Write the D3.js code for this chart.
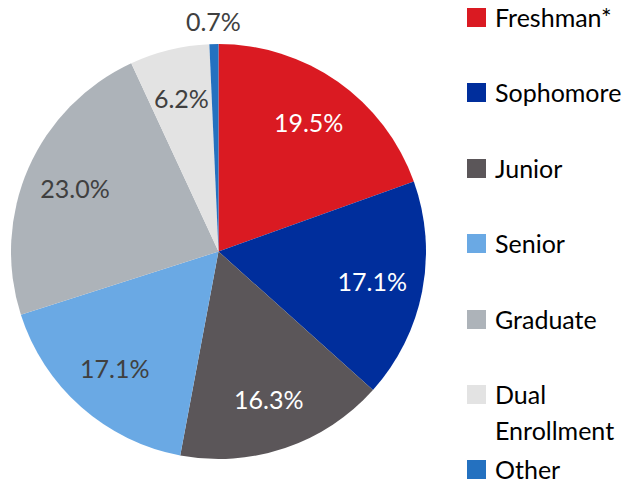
<!DOCTYPE html>
<html>
<head>
<meta charset="utf-8">
<script src="https://cdn.jsdelivr.net/npm/d3@7"></script>
<style>
  html, body { margin: 0; padding: 0; background: #fff; }
</style>
</head>
<body>
<svg id="chart"></svg>
<script>
const categories = ["Freshman*", "Sophomore", "Junior", "Senior", "Graduate", "Dual Enrollment", "Other"];
const values = [19.5, 17.1, 16.3, 17.1, 23.0, 6.2, 0.7];
const labels = ["19.5%", "17.1%", "16.3%", "17.1%", "23.0%", "6.2%", "0.7%"];
const colors = ["#da1a22", "#002e9c", "#5b5659", "#6aa9e4", "#adb3b9", "#e3e3e3", "#2471c0"];
const labelColors = ["#fff", "#fff", "#fff", "#404040", "#404040", "#404040", "#404040"];

const width = 632, height = 483;
const cx = 218.5, cy = 251.5, R = 207.5;
const font = "Lato, 'Open Sans', sans-serif";

const svg = d3.select("#chart")
    .attr("width", width)
    .attr("height", height)
    .style("font-family", font);

const pie = d3.pie().sort(null).value(d => d)(values);
const arc = d3.arc().innerRadius(0).outerRadius(R);
const labelArc = d3.arc().innerRadius(R * 0.755).outerRadius(R * 0.755);
const outerArc = d3.arc().innerRadius(230).outerRadius(230);

const g = svg.append("g").attr("transform", `translate(${cx},${cy})`);

g.selectAll("path")
    .data(pie)
    .join("path")
    .attr("d", arc)
    .attr("fill", (d, i) => colors[i]);

g.selectAll("text")
    .data(pie)
    .join("text")
    .attr("transform", (d, i) => `translate(${(i === 6 ? outerArc : labelArc).centroid(d)})`)
    .attr("text-anchor", "middle")
    .attr("dy", "0.36em")
    .style("font-size", "25px")
    .style("fill", (d, i) => labelColors[i])
    .text((d, i) => labels[i]);

// legend
const legend = svg.append("g").attr("transform", "translate(467,0)");
const rowY = [18, 93, 169, 244, 320, 395, 470];

const items = legend.selectAll("g")
    .data(categories)
    .join("g")
    .attr("transform", (d, i) => `translate(0,${rowY[i]})`);

items.append("rect")
    .attr("x", 0)
    .attr("y", -10)
    .attr("width", 19)
    .attr("height", 19)
    .attr("fill", (d, i) => colors[i]);

items.append("text")
    .attr("x", 28)
    .style("font-size", "25px")
    .style("fill", "#000")
    .each(function (d) {
        const words = d === "Dual Enrollment" ? ["Dual", "Enrollment"] : [d];
        d3.select(this).selectAll("tspan")
            .data(words)
            .join("tspan")
            .attr("x", 28)
            .attr("y", (w, j) => 9 + j * 36)
            .text(w => w);
    });
</script>
</body>
</html>
